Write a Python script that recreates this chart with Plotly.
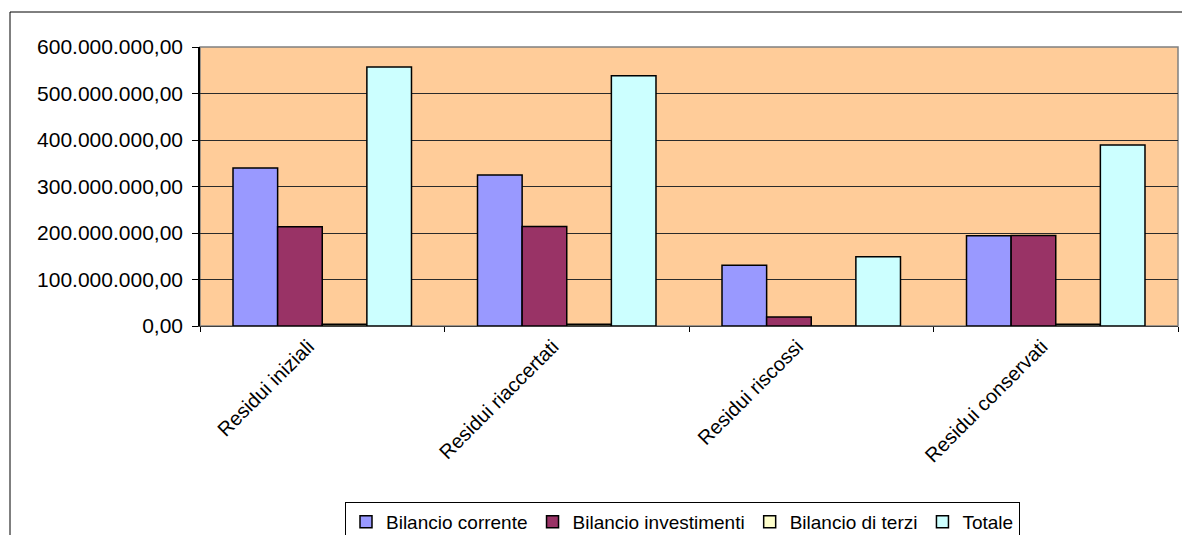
import plotly.graph_objects as go

categories = ["Residui iniziali", "Residui riaccertati", "Residui riscossi", "Residui conservati"]
bilancio_corrente = [340_000_000, 324_700_000, 130_500_000, 194_000_000]
bilancio_investimenti = [213_500_000, 214_000_000, 19_500_000, 194_500_000]
bilancio_terzi = [3_500_000, 3_500_000, 0, 4_000_000]
totale = [557_000_000, 538_400_000, 149_000_000, 389_000_000]
y_ticks = [0, 100_000_000, 200_000_000, 300_000_000, 400_000_000, 500_000_000, 600_000_000]

series = [
    ("Bilancio corrente", bilancio_corrente, "#9999FF"),
    ("Bilancio investimenti", bilancio_investimenti, "#993366"),
    ("Bilancio di terzi", bilancio_terzi, "#FFFFCC"),
    ("Totale", totale, "#CCFFFF"),
]

W, H = 1182, 535
L, R, T, B = 200, 4, 47, 209
pw, ph = W - L - R, H - T - B

fig = go.Figure()
for name, vals, col in series:
    fig.add_trace(go.Bar(
        name=name, x=categories, y=vals,
        marker=dict(color=col, line=dict(color="#000000", width=1.5)),
    ))

font = "Liberation Sans, Arial, sans-serif"

# outer chart frame (extends past the right and bottom edges)
fig.add_shape(type="rect", xref="paper", yref="paper",
              x0=(10 - L) / pw, x1=(W + 5 - L) / pw,
              y0=(T + ph - (H + 5)) / ph, y1=(T + ph - 12) / ph,
              line=dict(color="#000000", width=1), fillcolor="rgba(0,0,0,0)", layer="below")
# plot area border
fig.add_shape(type="rect", xref="paper", yref="paper", x0=0, x1=1, y0=0, y1=1,
              line=dict(color="#808080", width=1.5), fillcolor="rgba(0,0,0,0)", layer="below")

fig.update_layout(
    width=W, height=H,
    margin=dict(l=L, r=R, t=T, b=B, autoexpand=False),
    paper_bgcolor="#FFFFFF",
    plot_bgcolor="#FFCC99",
    barmode="group",
    bargap=0.27,
    bargroupgap=0,
    separators=",.",
    font=dict(family=font, size=18, color="#000000"),
    showlegend=True,
    legend=dict(
        orientation="h", xref="container", yref="container",
        x=345 / W, xanchor="left",
        y=(H - 502) / H, yanchor="top",
        bgcolor="#FFFFFF", bordercolor="#000000", borderwidth=1,
        font=dict(family=font, size=19, color="#000000"),
        itemwidth=30, tracegroupgap=0,
    ),
    xaxis=dict(
        type="category", tickangle=-45, tickson="boundaries",
        ticks="outside", ticklen=5, tickcolor="#000000", automargin=False,
        ticklabelshift=-14, ticklabelstandoff=0,
        showline=True, linecolor="#404040", linewidth=1,
        showgrid=False, tickfont=dict(family=font, size=20),
    ),
    yaxis=dict(
        range=[0, 600_000_000], tickvals=y_ticks, tickformat=",.2f",
        ticks="outside", ticklen=6, tickcolor="#000000", automargin=False,
        ticklabelstandoff=5,
        showline=True, linecolor="#000000", linewidth=1.5,
        showgrid=True, gridcolor="#2a2a2a", gridwidth=1,
        zeroline=False, tickfont=dict(family=font, size=21),
    ),
)

fig.write_html("out.html")
